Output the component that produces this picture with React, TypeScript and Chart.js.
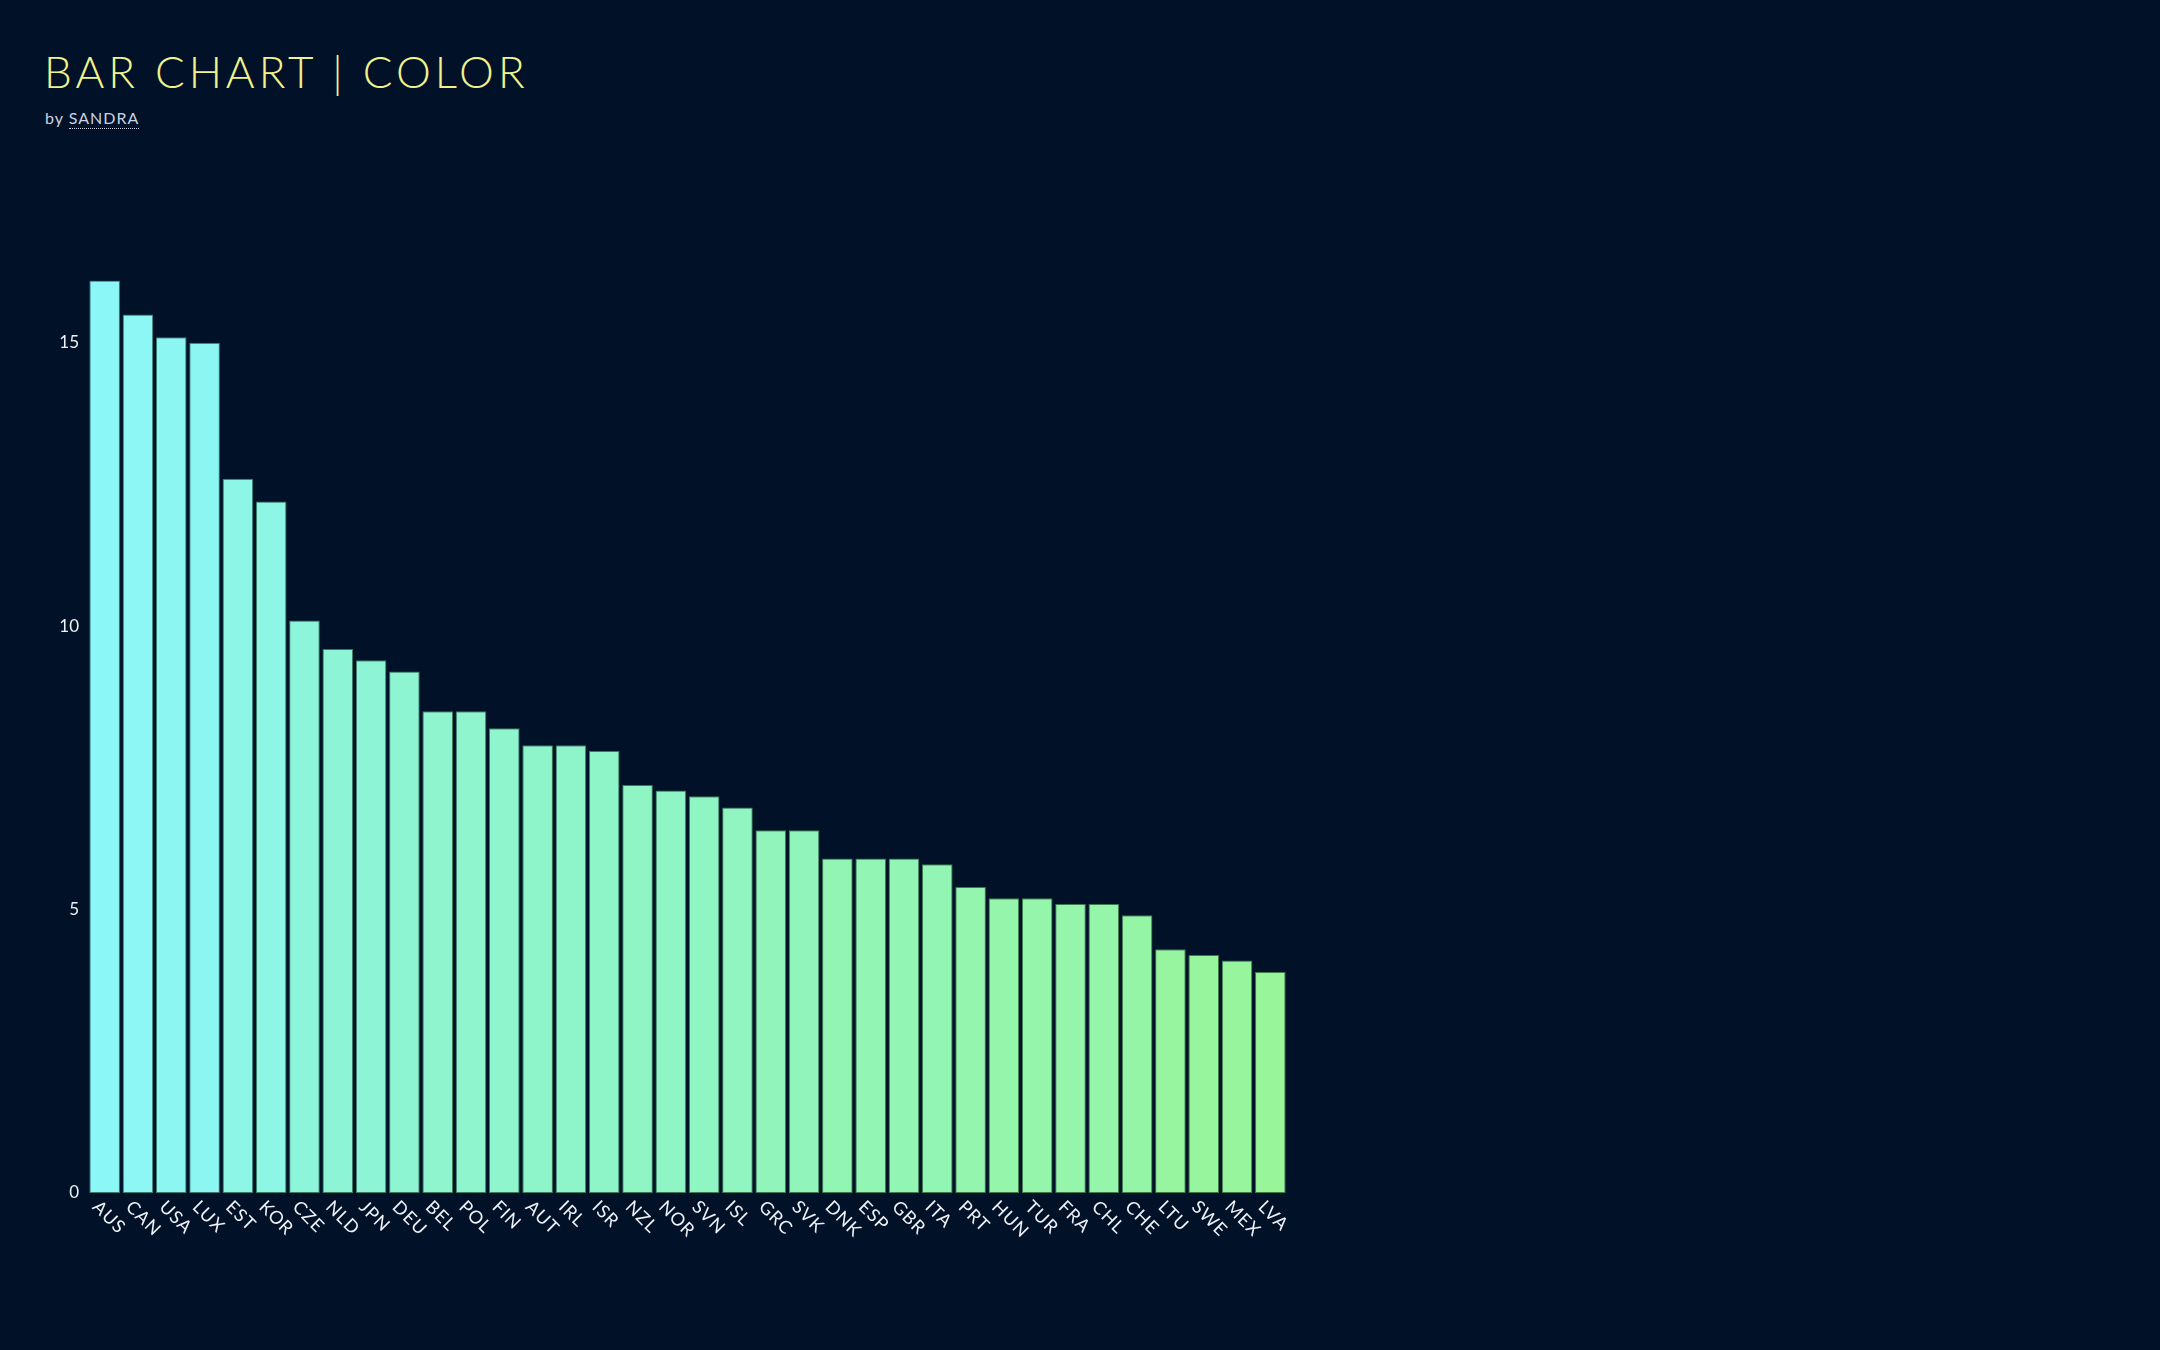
import React, { useEffect, useRef } from 'react';
import { Chart, registerables } from 'chart.js';

Chart.register(...registerables);

const CATEGORIES = [
  'AUS', 'CAN', 'USA', 'LUX', 'EST', 'KOR', 'CZE', 'NLD', 'JPN', 'DEU', 'BEL', 'POL',
  'FIN', 'AUT', 'IRL', 'ISR', 'NZL', 'NOR', 'SVN', 'ISL', 'GRC', 'SVK', 'DNK', 'ESP',
  'GBR', 'ITA', 'PRT', 'HUN', 'TUR', 'FRA', 'CHL', 'CHE', 'LTU', 'SWE', 'MEX', 'LVA',
];

const VALUES = [
  16.1, 15.5, 15.1, 15.0, 12.6, 12.2, 10.1, 9.6, 9.4, 9.2, 8.5, 8.5,
  8.2, 7.9, 7.9, 7.8, 7.2, 7.1, 7.0, 6.8, 6.4, 6.4, 5.9, 5.9,
  5.9, 5.8, 5.4, 5.2, 5.2, 5.1, 5.1, 4.9, 4.3, 4.2, 4.1, 3.9,
];

const Y_MIN = 0;
const Y_MAX = 16.1;
const Y_STEP = 5;

const TITLE = 'BAR CHART | COLOR';
const BYLINE = 'by';
const AUTHOR = 'SANDRA';

// colour ramp (value -> rgb)
const RAMP_VALUES = [3.9, 7.0, 10.1, 16.1];
const RAMP_COLORS = [
  [152, 245, 154],
  [143, 245, 195],
  [141, 245, 218],
  [140, 247, 247],
];

function colorFor(v: number): number[] {
  if (v <= RAMP_VALUES[0]) return RAMP_COLORS[0];
  for (let i = 1; i < RAMP_VALUES.length; i++) {
    if (v <= RAMP_VALUES[i]) {
      const t = (v - RAMP_VALUES[i - 1]) / (RAMP_VALUES[i] - RAMP_VALUES[i - 1]);
      return RAMP_COLORS[i].map((c, k) => Math.round(RAMP_COLORS[i - 1][k] + (c - RAMP_COLORS[i - 1][k]) * t));
    }
  }
  return RAMP_COLORS[RAMP_COLORS.length - 1];
}

const BG = '#011127';
const FONT = 'Lato, "Open Sans", sans-serif';

export default function App() {
  const ref = useRef<HTMLCanvasElement>(null);

  useEffect(() => {
    const canvas = ref.current;
    if (!canvas) return;
    const rgb = VALUES.map(colorFor);
    const fills = rgb.map((c) => `rgb(${c[0]},${c[1]},${c[2]})`);
    const borders = rgb.map((c) => `rgb(${Math.round(c[0] * 0.4)},${Math.round(c[1] * 0.5)},${Math.round(c[2] * 0.45)})`);

    const xLabels = {
      id: 'xLabels',
      afterDraw(chart: any) {
        const { ctx, chartArea } = chart;
        const xs = chart.scales.x;
        ctx.save();
        ctx.fillStyle = '#eef2f8';
        ctx.font = `18px ${FONT}`;
        try { (ctx as any).letterSpacing = '1px'; } catch (e) { /* ignore */ }
        ctx.textAlign = 'left';
        ctx.textBaseline = 'middle';
        CATEGORIES.forEach((label, i) => {
          const x = xs.getPixelForValue(i) - 9;
          const y = chartArea.bottom + 11;
          ctx.save();
          ctx.translate(x, y);
          ctx.rotate(Math.PI / 4);
          ctx.fillText(label, 0, 0);
          ctx.restore();
        });
        ctx.restore();
      },
    };

    const chart = new Chart(canvas, {
      type: 'bar',
      data: {
        labels: CATEGORIES,
        datasets: [
          {
            data: VALUES,
            backgroundColor: fills,
            borderColor: borders,
            borderWidth: 1,
            borderSkipped: false,
            barPercentage: 0.92,
            categoryPercentage: 1,
          },
        ],
      },
      options: {
        animation: false,
        responsive: false,
        maintainAspectRatio: false,
        layout: { padding: { top: 77.5, right: 2, left: 0, bottom: 0 } },
        plugins: { legend: { display: false }, tooltip: { enabled: false }, title: { display: false } },
        scales: {
          x: {
            grid: { display: false, drawTicks: false },
            border: { display: false },
            ticks: { display: false },
            afterFit: (s: any) => { s.height = 60; },
          },
          y: {
            min: Y_MIN,
            max: Y_MAX,
            grid: { display: false, drawTicks: false },
            border: { display: false },
            ticks: {
              stepSize: Y_STEP,
              includeBounds: false,
              color: '#eef2f8',
              padding: 9,
              font: { family: FONT, size: 17 },
            },
            afterFit: (s: any) => { s.width = 80; },
          },
        },
      },
      plugins: [xLabels],
    });
    return () => chart.destroy();
  }, []);

  return (
    <div style={{ position: 'fixed', inset: 0, background: BG, overflow: 'hidden', fontFamily: FONT }}>
      <div
        style={{
          position: 'absolute', left: 44, top: 49, fontSize: 44, lineHeight: 1, fontWeight: 300,
          color: '#f2f28c', letterSpacing: 4, whiteSpace: 'nowrap',
        }}
      >
        {TITLE}
      </div>
      <div
        style={{ position: 'absolute', left: 45, top: 110, fontSize: 16, lineHeight: 1, color: '#c9d2e2', letterSpacing: 1, whiteSpace: 'nowrap' }}
      >
        {BYLINE}{' '}
        <span style={{ borderBottom: '1.5px dotted #c9d2e2', paddingBottom: 1 }}>{AUTHOR}</span>
      </div>
      <canvas ref={ref} width={1281} height={1050} style={{ position: 'absolute', left: 8, top: 203, width: 1281, height: 1050 }} />
    </div>
  );
}
